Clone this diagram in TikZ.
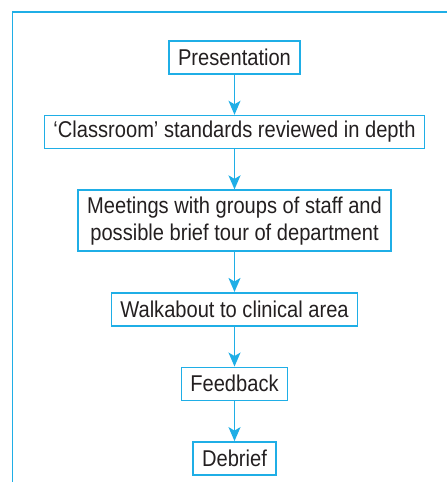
\documentclass[tikz,border=0pt]{standalone}
\usepackage{fontspec}
\setmainfont[FakeStretch=0.88]{Liberation Sans}
\usetikzlibrary{positioning,arrows.meta}

\definecolor{flowcyan}{HTML}{1FAEE6}
\definecolor{flowtext}{HTML}{231F20}

\begin{document}
\begin{tikzpicture}[line width=0.9pt, font=\fontsize{13}{15.3}\selectfont,
    stage/.style = {draw=flowcyan, text=flowtext, align=center, inner xsep=1.8mm, inner ysep=0.6mm, minimum height=6.6mm},
    flow/.style = {draw=flowcyan, -{Stealth[length=2.8mm, width=2.4mm, inset=0.7mm]}},
    node distance = 8mm]
    \useasboundingbox (0,0) rectangle (8.94,-9.64);
    % frame, open to the right and below
    \draw[flowcyan, line width=1pt] (0.25,-9.64) -- (0.25,-0.24) -- (8.94,-0.24);

    \node[stage] (pres) at (4.69,-1.15) {Presentation};
    \node[stage] (stand) [below=of pres] {‘Classroom’ standards reviewed in depth};
    \node[stage, minimum height=12.2mm] (meet) [below=of stand] {Meetings with groups of staff and\\possible brief tour of department};
    \node[stage] (walk) [below=of meet] {Walkabout to clinical area};
    \node[stage] (feed) [below=of walk] {Feedback};
    \node[stage] (debr) [below=of feed] {Debrief};

    \draw[flow] (pres) -- (stand);
    \draw[flow] (stand) -- (meet);
    \draw[flow] (meet) -- (walk);
    \draw[flow] (walk) -- (feed);
    \draw[flow] (feed) -- (debr);
\end{tikzpicture}
\end{document}
